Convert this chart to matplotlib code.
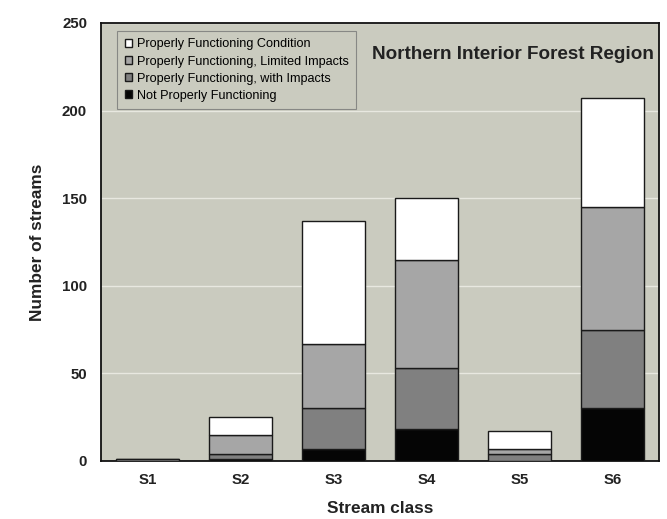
import numpy as np
import matplotlib
matplotlib.use("Agg")
import matplotlib.pyplot as plt

plt.rcParams['font.family'] = ['Liberation Sans', 'DejaVu Sans']

classes = ['S1', 'S2', 'S3', 'S4', 'S5', 'S6']
notFunctioning = [0, 1, 7, 18, 0, 30]
withImpacts = [0, 3, 23, 35, 4, 45]
limitedImpacts = [1, 11, 37, 62, 3, 70]
properCondition = [0, 10, 70, 35, 10, 62]

series = [
    ('Not Properly Functioning', notFunctioning, '#050505'),
    ('Properly Functioning, with Impacts', withImpacts, '#808080'),
    ('Properly Functioning, Limited Impacts', limitedImpacts, '#a6a6a6'),
    ('Properly Functioning Condition', properCondition, '#ffffff'),
]

fig = plt.figure(figsize=(6.67, 5.19), dpi=100)
ax = fig.add_axes([0.1514, 0.1118, 0.8366, 0.8439])
ax.set_facecolor('#cacbbf')

x = np.arange(len(classes))
bottom = np.zeros(len(classes))
handles = []
for label, values, color in series:
    values = np.array(values, dtype=float)
    bars = ax.bar(x, values, width=0.67, bottom=bottom, color=color,
                  edgecolor='#1a1a1a', linewidth=1.0, label=label, zorder=3)
    handles.append(bars)
    bottom += values

ax.set_xlim(-0.5, 5.5)
ax.set_ylim(0, 250)
ax.set_yticks(range(0, 251, 50))
ax.set_xticks(x)
ax.set_xticklabels(classes)
ax.yaxis.grid(True, color='#e8e8e0', linewidth=1.0, zorder=0)
ax.set_axisbelow(True)
ax.tick_params(axis='y', length=0, labelsize=10.8, pad=10)
ax.tick_params(axis='x', length=0, labelsize=10.8, pad=9)
for lbl in ax.get_xticklabels() + ax.get_yticklabels():
    lbl.set_fontweight('bold')
    lbl.set_color('#222222')
for spine in ax.spines.values():
    spine.set_linewidth(1.3)
    spine.set_color('#111111')

ax.set_xlabel('Stream class', fontsize=12.4, fontweight='bold', labelpad=10, color='#222222')
ax.set_ylabel('Number of streams', fontsize=12.4, fontweight='bold', labelpad=12, color='#222222')

# legend box sits inside the plot, top-left
leg = ax.legend(handles=handles[::-1], loc='upper left', bbox_to_anchor=(0.029, 0.982),
                fontsize=9.1, frameon=True, fancybox=False, handlelength=0.55,
                handleheight=0.55, handletextpad=0.4, labelspacing=0.4,
                borderpad=0.6, borderaxespad=0.0)
leg.get_frame().set_facecolor('#cacbbf')
leg.get_frame().set_edgecolor('#777777')
leg.get_frame().set_linewidth(0.8)

ax.text(0.99, 0.927, 'Northern Interior Forest Region', transform=ax.transAxes,
        ha='right', va='center', fontsize=13.6, fontweight='bold', color='#222222')

fig.savefig('out.png', dpi=100)
